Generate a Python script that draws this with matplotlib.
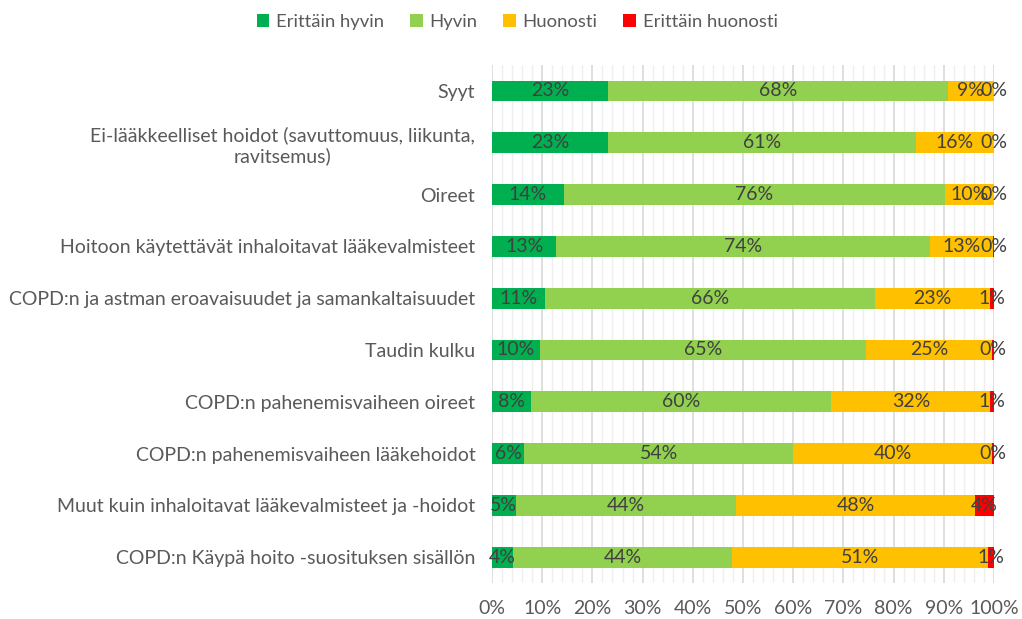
import numpy as np
import matplotlib.pyplot as plt
from matplotlib.ticker import MultipleLocator, PercentFormatter

plt.rcParams['font.family'] = ['Lato', 'DejaVu Sans']

categories = [
    'Syyt',
    'Ei-lääkkeelliset hoidot (savuttomuus, liikunta,\nravitsemus)',
    'Oireet',
    'Hoitoon käytettävät inhaloitavat lääkevalmisteet',
    'COPD:n ja astman eroavaisuudet ja samankaltaisuudet',
    'Taudin kulku',
    'COPD:n pahenemisvaiheen oireet',
    'COPD:n pahenemisvaiheen lääkehoidot',
    'Muut kuin inhaloitavat lääkevalmisteet ja -hoidot',
    'COPD:n Käypä hoito -suosituksen sisällön',
]
series_names = ['Erittäin hyvin', 'Hyvin', 'Huonosti', 'Erittäin huonosti']

# shares in percent (labels are rounded)
erittain_hyvin = [23.1, 23.1, 14.3, 12.8, 10.6, 9.6, 7.8, 6.4, 4.7, 4.1]
hyvin = [67.7, 61.3, 76.0, 74.4, 65.7, 64.9, 59.8, 53.6, 43.9, 43.8]
huonosti = [9.2, 15.6, 9.7, 12.6, 23.0, 25.2, 31.7, 39.7, 47.6, 51.0]
erittain_huonosti = [0.0, 0.0, 0.0, 0.3, 0.7, 0.3, 0.7, 0.3, 3.8, 1.1]

colors = ['#00B050', '#92D050', '#FFC000', '#FF0000']
fs = 14

fig = plt.figure(figsize=(10.22, 6.19), dpi=100)
ax = fig.add_axes([0.4814, 0.058, 0.4912, 0.837])

y = np.arange(len(categories))
left = np.zeros(len(categories))
for name, vals, c in zip(series_names, [erittain_hyvin, hyvin, huonosti, erittain_huonosti], colors):
    vals = np.array(vals)
    ax.barh(y, vals, left=left, height=0.4, color=c, label=name, zorder=3)
    for yi, l, v in zip(y, left, vals):
        ax.text(l + v / 2, yi, f'{v:.0f}%', ha='center', va='center',
                color='#404040', fontsize=fs, zorder=4)
    left += vals

ax.set_xlim(0, 100)
ax.set_ylim(len(categories) - 0.5, -0.5)
ax.set_yticks(y)
ax.set_yticklabels(categories, fontsize=fs, color='#595959', multialignment='center')
ax.xaxis.set_major_locator(MultipleLocator(10))
ax.xaxis.set_minor_locator(MultipleLocator(2))
ax.xaxis.set_major_formatter(PercentFormatter(decimals=0))
ax.tick_params(axis='x', labelsize=fs, colors='#595959', length=0, which='both', pad=12)
ax.tick_params(axis='y', length=0, pad=12)
ax.grid(axis='x', which='major', color='#D9D9D9', linewidth=1.2, zorder=0)
ax.grid(axis='x', which='minor', color='#EFEFEF', linewidth=1.0, zorder=0)
for s in ax.spines.values():
    s.set_visible(False)

fig.legend(loc='upper center', bbox_to_anchor=(0.506, 1.005), ncol=4, frameon=False,
           fontsize=13.3, handlelength=0.7, handleheight=0.7, columnspacing=1.4,
           handletextpad=0.35, labelcolor='#595959')

fig.savefig('out.png', dpi=100)
